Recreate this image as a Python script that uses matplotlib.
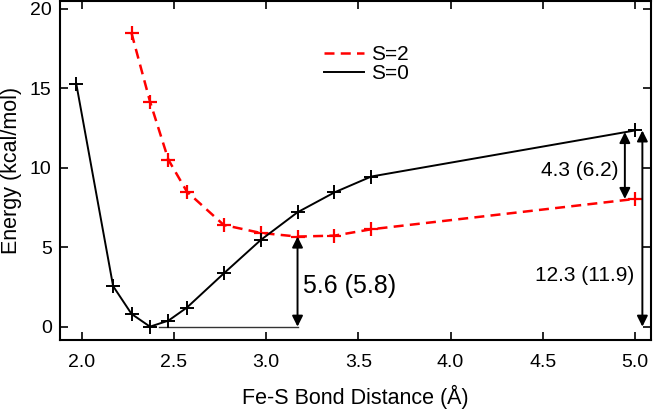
import matplotlib
matplotlib.use("Agg")
import matplotlib.pyplot as plt
from matplotlib.lines import Line2D

plt.rcParams['font.family'] = ['Liberation Sans', 'DejaVu Sans']

# Data
x_s0 = [1.97, 2.17, 2.27, 2.37, 2.47, 2.57, 2.77, 2.97, 3.17, 3.37, 3.57, 5.0]
y_s0 = [15.3, 2.55, 0.8, 0.0, 0.38, 1.2, 3.35, 5.45, 7.2, 8.45, 9.45, 12.35]
x_s2 = [2.27, 2.37, 2.47, 2.57, 2.77, 2.97, 3.17, 3.37, 3.57, 5.0]
y_s2 = [18.47, 14.17, 10.5, 8.5, 6.4, 5.9, 5.67, 5.73, 6.13, 8.04]
xticks = [2.0, 2.5, 3.0, 3.5, 4.0, 4.5, 5.0]
xticklabels = ["2.0", "2.5", "3.0", "3.5", "4.0", "4.5", "5.0"]
yticks = [0, 5, 10, 15, 20]
yticklabels = ["0", "5", "10", "15", "20"]
labels = ["S=2", "S=0"]
ann_texts = ["5.6 (5.8)", "4.3 (6.2)", "12.3 (11.9)"]

fig = plt.figure(figsize=(6.53, 4.09), dpi=100)
ax = fig.add_axes([0.0919, 0.1687, 0.997 - 0.0919, 0.9976 - 0.1687])

red_dash = (0, (4, 2.5))
ax.plot(x_s2, y_s2, color='#ff0000', lw=1.8, ls=red_dash, marker='+',
        ms=10, mew=1.6, zorder=3)
ax.plot(x_s0, y_s0, color='black', lw=1.4, marker='+', ms=10, mew=1.4,
        zorder=4)

ax.set_xlim(1.882, 5.087)
ax.set_ylim(-0.84, 20.5)
ax.set_xticks(xticks)
ax.set_xticklabels(xticklabels)
ax.set_yticks(yticks)
ax.set_yticklabels(yticklabels)
ax.tick_params(direction='in', length=6, width=1.2, top=True, right=True,
               labelsize=14, pad=6)
ax.tick_params(axis='x', pad=10)
for s in ax.spines.values():
    s.set_linewidth(1.5)

ax.set_xlabel("Fe-S Bond Distance (Å)", fontsize=15.5, labelpad=10)
ax.set_ylabel("Energy (kcal/mol)", fontsize=15.5, labelpad=6)

# Annotations
ax.plot([2.42, 3.17], [0, 0], color='#333333', lw=1.0, zorder=2)
ap = dict(arrowstyle='<|-|>', color='black', lw=1.4, mutation_scale=16,
          shrinkA=0, shrinkB=0)
ax.annotate("", xy=(3.17, y_s2[6]), xytext=(3.17, 0), arrowprops=ap)
ax.text(3.20, 2.55, ann_texts[0], fontsize=18, va='center', ha='left')
ax.annotate("", xy=(4.945, 12.25), xytext=(4.945, y_s2[-1]), arrowprops=ap)
ax.text(4.91, 9.85, ann_texts[1], fontsize=15, va='center', ha='right')
ax.annotate("", xy=(5.04, 12.35), xytext=(5.04, 0), arrowprops=ap)
ax.text(4.998, 3.2, ann_texts[2], fontsize=15, va='center', ha='right')

handles = [Line2D([], [], color='#ff0000', lw=1.8, ls=red_dash),
           Line2D([], [], color='black', lw=1.4)]
leg = ax.legend(handles, labels, loc='upper left',
                bbox_to_anchor=(0.415, 0.925), frameon=False,
                fontsize=15, handlelength=1.9, handletextpad=0.35,
                labelspacing=0.0)

fig.savefig("out.png", dpi=100)
